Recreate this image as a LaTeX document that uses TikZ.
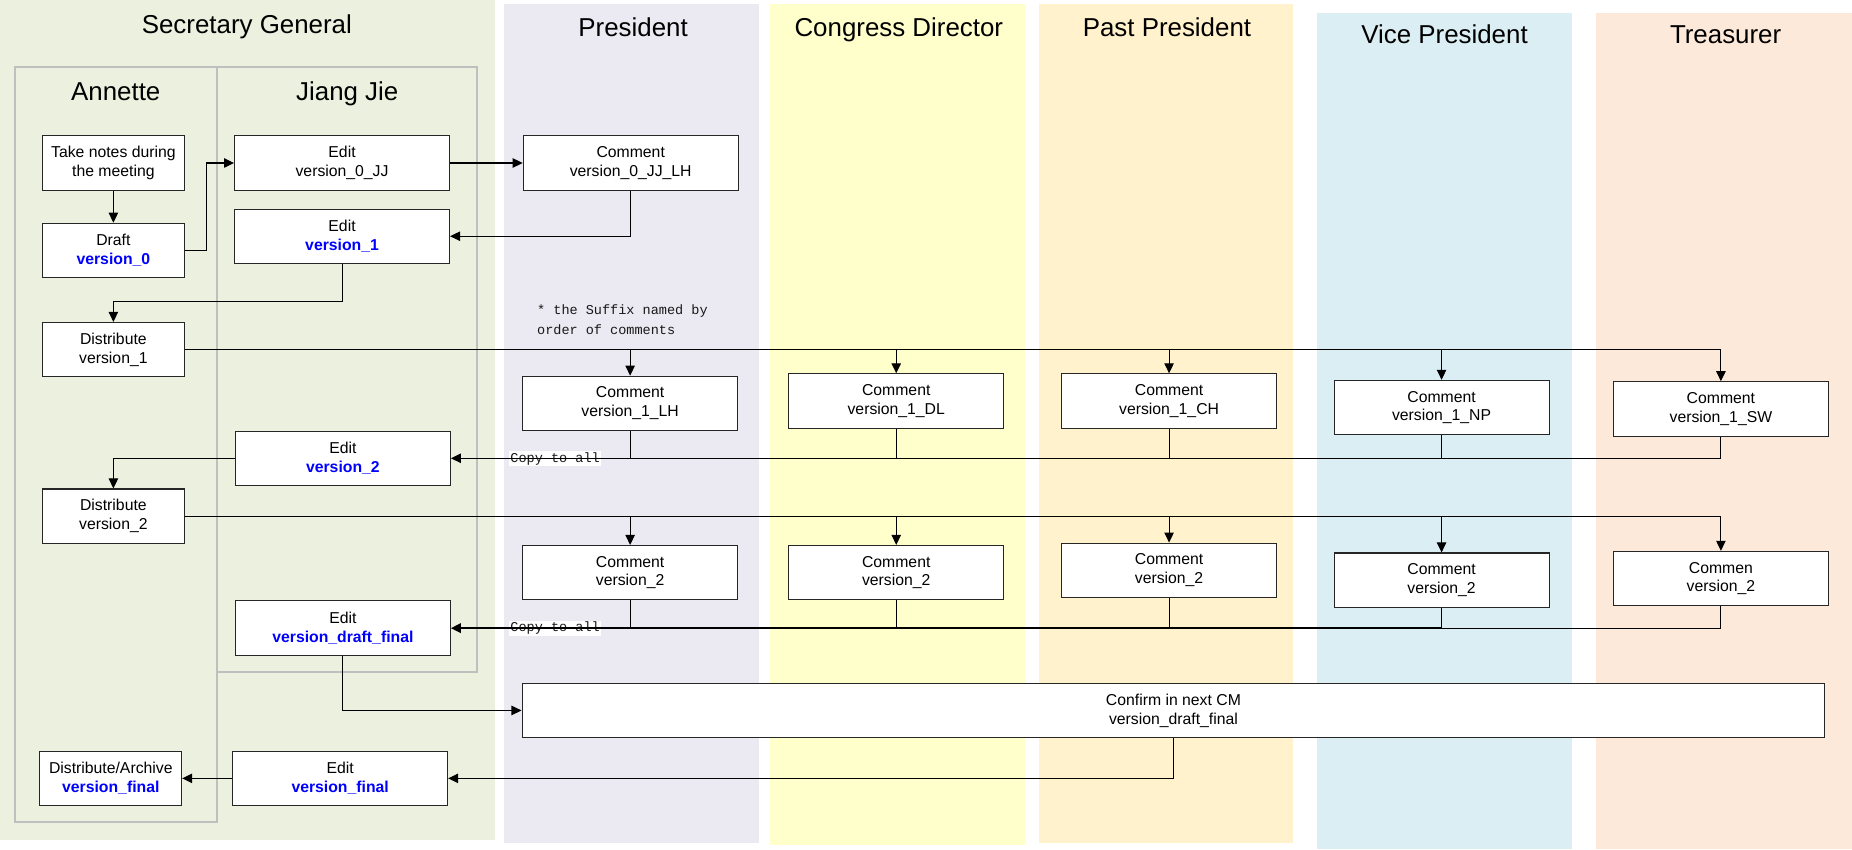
\documentclass[tikz,border=0pt]{standalone}
\usepackage{fontspec}
\setmainfont{Liberation Sans}
\setmonofont{Liberation Mono}
\usetikzlibrary{arrows.meta}
\definecolor{sglane}{RGB}{235,241,222}
\definecolor{prlane}{RGB}{235,233,241}
\definecolor{cdlane}{RGB}{255,255,204}
\definecolor{pplane}{RGB}{255,242,204}
\definecolor{vplane}{RGB}{218,238,243}
\definecolor{trlane}{RGB}{253,233,217}
\definecolor{vblue}{RGB}{0,0,255}
\newcommand{\ver}[1]{\textcolor{vblue}{\bfseries #1}}
\begin{document}
\begin{tikzpicture}[x=1bp,y=-1bp,line width=0.9bp,>={Triangle[length=8.5bp,width=8bp]},
                box/.style={draw=black!85,fill=white,align=center,inner sep=0pt,minimum height=46bp,minimum width=182bp,font=\fontsize{13.4}{16}\selectfont},
                small/.style={box,minimum width=120bp},
                title/.style={anchor=base,font=\fontsize{22}{26}\selectfont},
                note/.style={font=\ttfamily\fontsize{11.5}{17}\selectfont,text=black!90}]
                \useasboundingbox(0,0)rectangle(1568,719);
                % lanes
                \fill[sglane](0,0)rectangle(419,711);
                \fill[prlane](427,3)rectangle(643,714);
                \fill[cdlane](652,3)rectangle(868,715);
                \fill[pplane](880,3)rectangle(1095,714);
                \fill[vplane](1115,11)rectangle(1331,719);
                \fill[trlane](1351,11)rectangle(1568,719);
                \draw[black!25,line width=1.5bp](13,57)rectangle(184,696);
                \draw[black!25,line width=1.5bp](184,57)rectangle(404,569);
                \node[title](sg)at(209,28){Secretary General};
                \node[title](an)at(98,85.5){Annette};
                \node[title](jj)at(294,85.5){Jiang Jie};
                \node[title](pr)at(536,30.5){President};
                \node[title](cd)at(761,30.5){Congress Director};
                \node[title](pp)at(988,30.5){Past President};
                \node[title](vp)at(1223,37){Vice President};
                \node[title](tr)at(1461,37){Treasurer};
                % steps
                \node[small](take)at(96,138){Take notes during\\the meeting};
                \node[small](draft)at(96,212){Draft\\\ver{version\_0}};
                \node[box](edit0)at(289.6,138){Edit\\version\_0\_JJ};
                \node[box](edit1)at(289.6,200){Edit\\\ver{version\_1}};
                \node[box](cmt0)at(534,138){Comment\\version\_0\_JJ\_LH};
                \node[small](dist1)at(96,296){Distribute\\version\_1};
                \node[box](edit2)at(290.3,388){Edit\\\ver{version\_2}};
                \node[small](dist2)at(96,437){Distribute\\version\_2};
                \node[box](editdf)at(290.3,531.8){Edit\\\ver{version\_draft\_final}};
                \node[box,minimum width=1103bp](confirm)at(993.5,601.5){Confirm in next CM\\version\_draft\_final};
                \node[box](editf)at(288,659){Edit\\\ver{version\_final}};
                \node[small](archive)at(93.8,659){Distribute/Archive\\\ver{version\_final}};
                % comments
                \node[box](lh1)at(533.5,341.5){Comment\\version\_1\_LH};
                \node[box](dl1)at(758.8,339.5){Comment\\version\_1\_DL};
                \node[box](ch1)at(989.8,339.5){Comment\\version\_1\_CH};
                \node[box](np1)at(1220.5,345){Comment\\version\_1\_NP};
                \node[box](sw1)at(1457,346.2){Comment\\version\_1\_SW};
                \node[box](lh2)at(533.5,484.8){Comment\\version\_2};
                \node[box](dl2)at(758.8,484.8){Comment\\version\_2};
                \node[box](ch2)at(989.8,482.8){Comment\\version\_2};
                \node[box](np2)at(1220.5,491.2){Comment\\version\_2};
                \node[box](sw2)at(1457,489.8){Commen\\version\_2};
                \node[note,align=left,anchor=west](suffix)at(451,271){* the Suffix named by\\order of comments};
                \node[note,fill=white,inner sep=1bp](copy1)at(470,388.5){Copy to all};
                \node[note,fill=white,inner sep=1bp](copy2)at(470,531.8){Copy to all};
                % connectors
                \draw[->](take)--(draft);
                \draw[->](draft.east)--++(18,0)|-(edit0.west);
                \draw[->](edit0)--(cmt0);
                \draw[->](cmt0.south)|-(edit1.east);
                \draw[->](edit1.south)--++(0,32)-|(dist1.north);
                \draw[->](dist1.east)-|(sw1.north);
                \draw[->](lh1.north|-dist1.east)--(lh1.north);
                \draw[->](dl1.north|-dist1.east)--(dl1.north);
                \draw[->](ch1.north|-dist1.east)--(ch1.north);
                \draw[->](np1.north|-dist1.east)--(np1.north);
                \draw[->](sw1.south)|-(edit2.east);
                \draw(lh1.south)--(lh1.south|-edit2.east);
                \draw(dl1.south)--(dl1.south|-edit2.east);
                \draw(ch1.south)--(ch1.south|-edit2.east);
                \draw(np1.south)--(np1.south|-edit2.east);
                \draw[->](edit2.west)-|(dist2.north);
                \draw[->](dist2.east)-|(sw2.north);
                \draw[->](lh2.north|-dist2.east)--(lh2.north);
                \draw[->](dl2.north|-dist2.east)--(dl2.north);
                \draw[->](ch2.north|-dist2.east)--(ch2.north);
                \draw[->](np2.north|-dist2.east)--(np2.north);
                \draw(sw2.south)|-(np2.south|-editdf.east);
                \draw[->,line width=1.5bp](np2.south)|-(editdf.east);
                \draw(lh2.south)--(lh2.south|-editdf.east);
                \draw(dl2.south)--(dl2.south|-editdf.east);
                \draw(ch2.south)--(ch2.south|-editdf.east);
                \draw[->](editdf.south)|-(confirm.west);
                \draw[->](confirm.south)|-(editf.east);
                \draw[->](editf)--(archive);
            \end{tikzpicture}
\end{document}
